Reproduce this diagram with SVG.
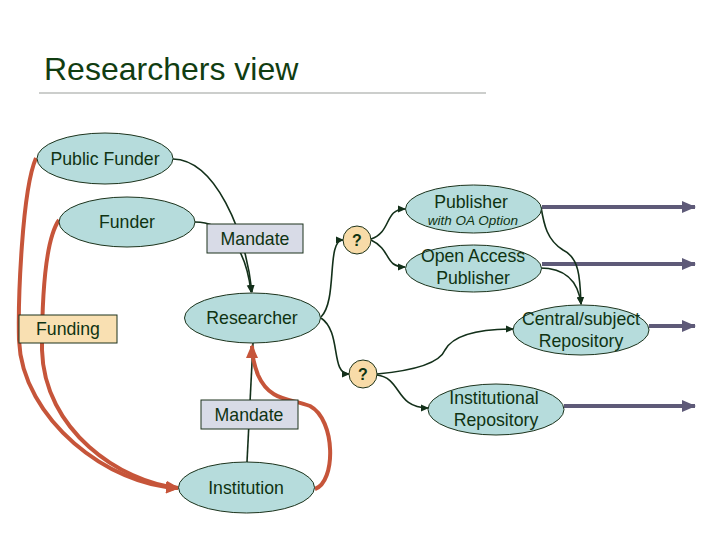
<svg xmlns="http://www.w3.org/2000/svg" width="720" height="540" viewBox="0 0 720 540">
<defs>
<style>
.t{font-family:"Liberation Sans",Arial,sans-serif;fill:#0f3312;text-anchor:middle;font-size:17.7px}
.sm{font-size:13.5px;font-style:italic}
.qt{font-size:16px;font-weight:bold}
.el{fill:#b6dcdc;stroke:#1c331c;stroke-width:1}
.bx{fill:#d8dbe7;stroke:#1c331c;stroke-width:1}
.fund{fill:#f9e0b2;stroke:#1c331c;stroke-width:1}
.q{fill:#f8dba8;stroke:#1c331c;stroke-width:1}
.g{fill:none;stroke:#13301a;stroke-width:1.6}
.r{fill:none;stroke:#c6553a;stroke-width:4}
.p{fill:none;stroke:#5e5a78;stroke-width:4}
</style>
<marker id="ag" markerWidth="8" markerHeight="8" refX="7" refY="4" orient="auto" markerUnits="userSpaceOnUse"><path d="M0,0.5 L8,4 L0,7.5 Z" fill="#13301a"/></marker>
<marker id="ar" markerWidth="14" markerHeight="14" refX="12" refY="7" orient="auto" markerUnits="userSpaceOnUse"><path d="M0,1 L14,7 L0,13 Z" fill="#c6553a"/></marker>
<marker id="ap" markerWidth="14" markerHeight="12" refX="13" refY="6" orient="auto" markerUnits="userSpaceOnUse"><path d="M0,0 L14,6 L0,12 Z" fill="#5e5a78"/></marker>
</defs>
<rect width="720" height="540" fill="#ffffff"/>
<text x="44" y="80" font-family="Liberation Sans,Arial,sans-serif" font-size="32" fill="#113d11">Researchers view</text>
<line x1="39" y1="93" x2="486" y2="93" stroke="#9a9d9a" stroke-width="1.2"/>

<g id="connectors">
<path class="p" d="M542,207 L695,207" marker-end="url(#ap)"/>
<path class="p" d="M542,264 L695,264" marker-end="url(#ap)"/>
<path class="p" d="M649,326 L695,326" marker-end="url(#ap)"/>
<path class="p" d="M564,406 L695,406" marker-end="url(#ap)"/>
<path class="r" d="M36,158 C 22,190 18,300 19,340 C 22,420 110,486 178,488" marker-end="url(#ar)"/>
<path class="r" d="M59,220 C 45,240 42,300 42,350 C 44,430 120,482 178,488" marker-end="url(#ar)"/>
<path class="g" d="M173,159 C 215,160 245,230 252,292" marker-end="url(#ag)"/>
<path class="g" d="M195,222 C 220,222 245,240 251,292" marker-end="url(#ag)"/>
<path class="g" d="M247,462 L253,343"/>
<path class="g" d="M321,317 C 338,300 326,240 343,240" marker-end="url(#ag)"/>
<path class="g" d="M321,318 C 342,332 330,374 349,374" marker-end="url(#ag)"/>
<path class="g" d="M371,239 C 392,232 384,209 405,209" marker-end="url(#ag)"/>
<path class="g" d="M371,240 C 392,250 384,267 405,267" marker-end="url(#ag)"/>
<path class="g" d="M377,374 C 420,370 440,362 445,350 C 455,332 490,329 513,329" marker-end="url(#ag)"/>
<path class="g" d="M377,375 C 402,378 395,408 428,408" marker-end="url(#ag)"/>
<path class="g" d="M541,207 C 544,225 547,240 563,250 C 580,258 580,280 581,304" marker-end="url(#ag)"/>
<path class="g" d="M540,268 C 565,268 578,280 581,304" marker-end="url(#ag)"/>
<path class="r" d="M315,489 C 336,482 336,420 310,406 C 290,398 270,402 258,375 C 253,362 252,352 252,346" marker-end="url(#ar)"/>
</g>

<g id="public-funder"><ellipse class="el" cx="105" cy="158.5" rx="68" ry="25.5"/><text class="t" x="105" y="165">Public Funder</text></g>
<g id="funder"><ellipse class="el" cx="127" cy="222" rx="68" ry="25"/><text class="t" x="127" y="228">Funder</text></g>
<g id="mandate-top"><rect class="bx" x="207" y="224" width="96" height="29"/><text class="t" x="255" y="245">Mandate</text></g>
<g id="funding"><rect class="fund" x="19" y="315" width="98" height="28"/><text class="t" x="68" y="335">Funding</text></g>
<g id="researcher"><ellipse class="el" cx="252.5" cy="318" rx="68" ry="25"/><text class="t" x="252" y="324">Researcher</text></g>
<g id="mandate-bottom"><rect class="bx" x="201" y="400" width="97" height="29"/><text class="t" x="249" y="421">Mandate</text></g>
<g id="institution"><ellipse class="el" cx="246.5" cy="487.5" rx="68" ry="25.5"/><text class="t" x="246" y="494">Institution</text></g>
<g id="q-top"><circle class="q" cx="357" cy="240" r="14"/><text class="t qt" x="357" y="246">?</text></g>
<g id="q-bottom"><circle class="q" cx="363" cy="374" r="14"/><text class="t qt" x="363" y="380">?</text></g>
<g id="publisher"><ellipse class="el" cx="473.5" cy="209" rx="68" ry="24"/><text class="t" x="471" y="208">Publisher</text><text class="t sm" x="473" y="225">with OA Option</text></g>
<g id="oa-publisher"><ellipse class="el" cx="473.5" cy="268.5" rx="68" ry="23.5"/><text class="t" x="473" y="262">Open Access</text><text class="t" x="473" y="284">Publisher</text></g>
<g id="central-repository"><ellipse class="el" cx="581" cy="330" rx="68" ry="25"/><text class="t" x="581" y="325">Central/subject</text><text class="t" x="581" y="347">Repository</text></g>
<g id="institutional-repository"><ellipse class="el" cx="496" cy="409.5" rx="68" ry="25.5"/><text class="t" x="494" y="404">Institutional</text><text class="t" x="496" y="426">Repository</text></g>
</svg>
